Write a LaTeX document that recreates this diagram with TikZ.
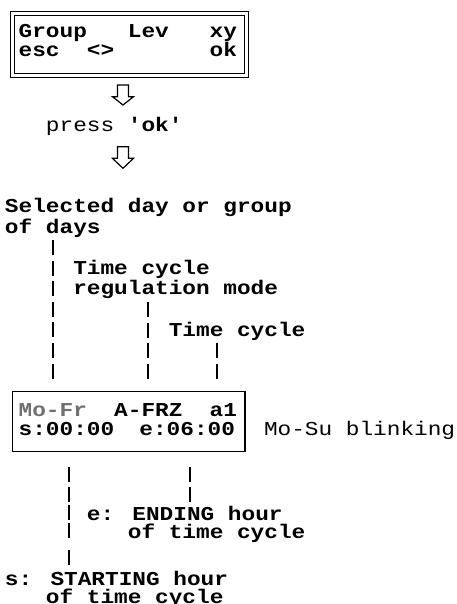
\documentclass[tikz,border=0pt]{standalone}
\usepackage{fontspec}
\newfontfamily\mono[FakeStretch=1.155,Ligatures=TeXOff]{Liberation Mono}
\definecolor{dimtext}{HTML}{707070}
\tikzset{
  txt/.style={inner sep=0pt, outer sep=0pt, anchor=base west,
    font=\mono\bfseries\fontsize{19.7}{20}\selectfont},
  txtr/.style={txt, anchor=base east},
  light/.style={txt, font=\mono\fontsize{19.7}{20}\selectfont},
  bar/.style={line width=2pt, dash pattern=on 15pt off 5.6pt},
  lowbar/.style={line width=2pt,
    dash pattern=on 15pt off 5pt on 15pt off 3pt on 15pt off 3pt on 15pt off 12pt on 15pt off 100pt},
  hollow/.style={draw, line width=1.2pt, fill=white, line join=miter},
  screen/.style={draw, inner sep=0pt, outer sep=0pt, anchor=north west},
}
\begin{document}
\begin{tikzpicture}[x=1pt,y=-1pt]
\useasboundingbox (0,0) rectangle (456,604);

% first display
\node[screen, double, double distance=2.6pt, line width=1pt,
      minimum width=234pt, minimum height=62pt] (disp1) at (12.5,13.3) {};
\node[txt]  (g)   at (18.65,38) {Group};
\node[txt]  (lev) at (127.85,38) {Lev};
\node[txtr] (xy)  at (237.05,38) {xy};
\node[txt]  (esc) at (18.65,57) {esc};
\node[txt]  (lr)  at (86.9,57) {<>};
\node[txtr] (ok)  at (237.05,57) {ok};

% arrows and press ok
\coordinate (ar1) at (123,85);
\draw[hollow] (ar1) ++(-5.5,0) -- ++(0,11.7) -- ++(-5,0) -- ++(10.5,8.3)
  -- ++(10.5,-8.3) -- ++(-5,0) -- ++(0,-11.7) -- cycle;
\node[light] (press) at (45.95,132) {press {\bfseries 'ok'}};
\coordinate (ar2) at (123,146.7);
\draw[hollow] (ar2) ++(-5.5,0) -- ++(0,11.6) -- ++(-5,0) -- ++(10.5,10)
  -- ++(10.5,-10) -- ++(-5,0) -- ++(0,-11.6) -- cycle;

% upper labels
\node[txt] (sel1) at (5,212) {Selected day or group};
\node[txt] (sel2) at (5,233) {of days};
\node[txt] (reg1) at (73.25,274) {Time cycle};
\node[txt] (reg2) at (73.25,294) {regulation mode};
\node[txt] (cyc)  at (168.8,336.5) {Time cycle};

% second display
\node[screen, line width=1.4pt, minimum width=232.3pt, minimum height=60pt]
  (disp2) at (12.7,391.7) {};
\node[txt, text=dimtext] (mofr) at (18.65,416) {Mo-Fr};
\node[txt]  (afrz) at (114.2,416) {A-FRZ};
\node[txtr] (a1)   at (237.05,416) {a1};
\node[txt]  (st)   at (18.65,435) {s:00:00};
\node[txtr] (en)   at (235,435) {e:06:00};
\node[light] (blink) at (264,435) {Mo-Su blinking};

% upper leader bars
\coordinate (b1) at (53,240);
\coordinate (b2) at (148,302);
\coordinate (b3) at (217,343);
\draw[bar, shorten >=13.1pt] (b1) -- (b1 |- disp2.north);
\draw[bar, shorten >=12.9pt] (b2) -- (b2 |- disp2.north);
\draw[bar, shorten >=13.1pt] (b3) -- (b3 |- disp2.north);

% lower labels
\node[txt] (end1) at (86.9,520) {e: ENDING hour};
\node[txt] (end2) at (127.85,538) {of time cycle};
\node[txt] (sta1) at (5,585) {s: STARTING hour};
\node[txt] (sta2) at (45.95,603) {of time cycle};

% lower leader bars
\coordinate (b4) at (68.5,467);
\coordinate (b5) at (190,467);
\draw[lowbar] (b4) -- (b4 |- sta1.north);
\draw[lowbar] (b5) -- ++(0,35);
\end{tikzpicture}
\end{document}
